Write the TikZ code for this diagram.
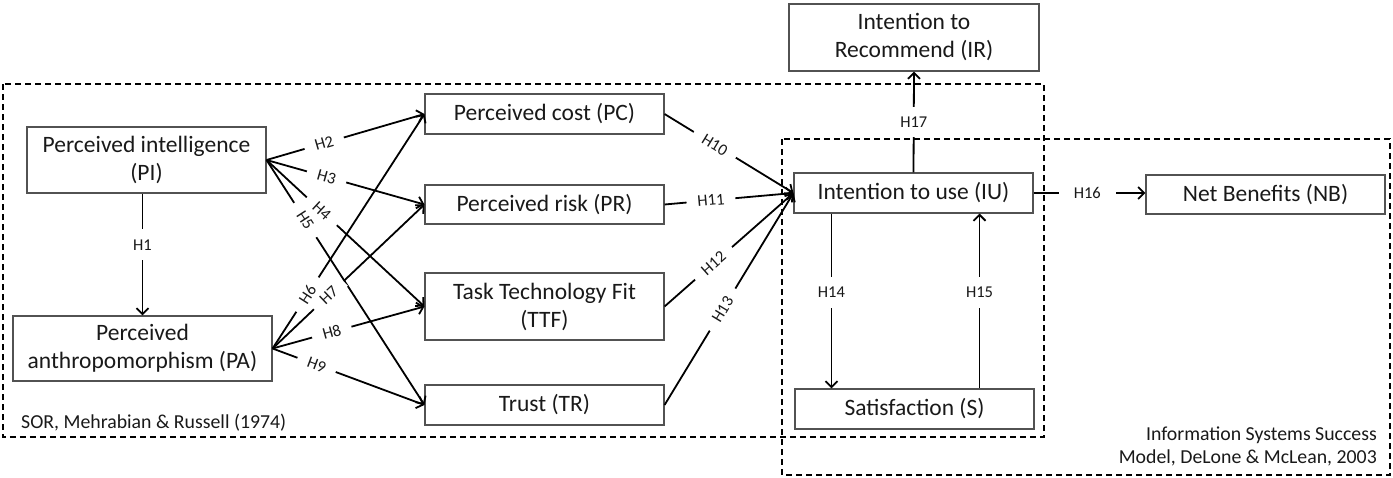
\documentclass[tikz,border=0pt]{standalone}
\usepackage{fontspec}
\setmainfont{Carlito}
\usetikzlibrary{arrows.meta}
\begin{document}
\begin{tikzpicture}[x=1pt,y=-1pt,
  box/.style={draw=black!68, line width=1.1pt, minimum width=239pt, inner sep=0pt, align=center, font=\fontsize{23.5}{28}\selectfont, text=black!90},
  conn/.style={line width=1.8pt, -{Straight Barb[length=6pt,width=12pt,line width=1.8pt]}},
  lab/.style={font=\fontsize{16.5}{16.5}\selectfont, fill=white, inner xsep=11pt, inner ysep=1pt, sloped, text=black!90},
  vlab/.style={font=\fontsize{16.5}{16.5}\selectfont, fill=white, inner xsep=2pt, inner ysep=10pt, text=black!90},
  frame/.style={dash pattern=on 6pt off 4pt, line width=1.8pt},
  note/.style={font=\fontsize{19.8}{23}\selectfont, inner sep=0pt, text=black!90}
]
\useasboundingbox (0,0) rectangle (1393,477);

% frames
\draw[frame] (3,84) rectangle (1044,437);
\draw[frame] (782,139) rectangle (1390,475);

% boxes
\node[box, minimum width=239pt, minimum height=66pt] (PI) at (146.5,160) {Perceived intelligence\\(PI)};
\node[box, minimum width=259pt, minimum height=65pt] (PA) at (142.5,348.5) {Perceived\\anthropomorphism (PA)};
\node[box, minimum height=40pt] (PC) at (544.5,114) {Perceived cost (PC)};
\node[box, minimum height=39pt] (PR) at (544.5,204.5) {Perceived risk (PR)};
\node[box, minimum height=67pt] (TTF) at (544.5,306.5) {Task Technology Fit\\(TTF)};
\node[box, minimum height=40pt] (TR) at (544.5,405) {Trust (TR)};
\node[box, minimum height=40pt] (IU) at (913.5,193) {Intention to use (IU)};
\node[box, minimum height=40pt] (S) at (914.5,409) {Satisfaction (S)};
\node[box, minimum width=250pt, minimum height=67pt] (IR) at (914,37.5) {Intention to\\Recommend (IR)};
\node[box, minimum height=39pt] (NB) at (1265.5,194.5) {Net Benefits (NB)};

% notes
\node[note, anchor=west] (sor) at (21,423) {SOR, Mehrabian \& Russell (1974)};
\node[note, anchor=east, align=right] (iss) at (1377,446.5) {Information Systems Success\\Model, DeLone \& McLean, 2003};

% connectors
\draw[conn] (PI.south -| PA.north) -- node[vlab,pos=0.42]{H1} (PA.north);
\draw[conn] (PI.east) -- node[lab,pos=0.365]{H2} (PC.west);
\draw[conn] (PI.east) -- node[lab,pos=0.38]{H3} (PR.west);
\draw[conn] (PI.east) -- node[lab,pos=0.35]{H4} (TTF.west);
\draw[conn] (PI.east) -- node[lab,pos=0.245]{H5} (TR.west);
\draw[conn] (PA.east) -- node[lab,pos=0.23]{H6} (PC.west);
\draw[conn] (PA.east) -- node[lab,pos=0.37]{H7} (PR.west);
\draw[conn] (PA.east) -- node[lab,pos=0.39]{H8} (TTF.west);
\draw[conn] (PA.east) -- node[lab,pos=0.29]{H9} (TR.west);
\draw[conn] (PC.east) -- node[lab,pos=0.39]{H10} (IU.west);
\draw[conn] (PR.east) -- node[lab,pos=0.36]{H11} (IU.west);
\draw[conn] (TTF.east) -- node[lab,pos=0.38]{H12} (IU.west);
\draw[conn] (TR.east) -- node[lab,pos=0.45]{H13} (IU.west);
\coordinate (a14) at ([xshift=38pt]IU.south west);
\coordinate (a15) at ([xshift=-54pt]IU.south east);
\draw[conn] (a14) -- node[vlab,pos=0.45]{H14} (a14 |- S.north);
\draw[conn] (a15 |- S.north) -- node[vlab,pos=0.55]{H15} (a15);
\draw[conn] (IU.east) -- node[lab,pos=0.48,inner xsep=15pt]{H16} (IU.east -| NB.west);
\draw[conn] (IU.north) -- node[vlab,pos=0.5]{H17} (IR.south);
\end{tikzpicture}
\end{document}
